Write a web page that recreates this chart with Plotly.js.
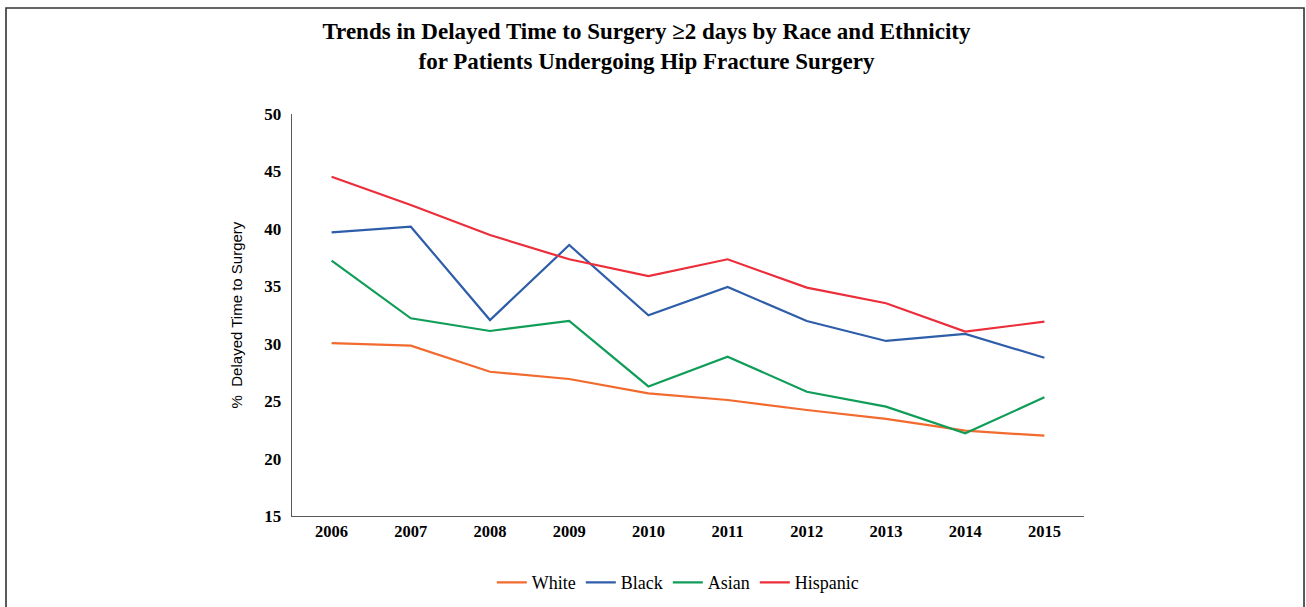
<!DOCTYPE html>
<html>
<head>
<meta charset="utf-8">
<script src="https://cdn.plot.ly/plotly-3.0.1.min.js"></script>
<style>html,body{margin:0;padding:0;background:#fff;}#chart{width:1306px;height:607px;}</style>
</head>
<body>
<div id="chart"></div>
<script>
const years = ["2006","2007","2008","2009","2010","2011","2012","2013","2014","2015"];
const white = [30.06, 29.83, 27.56, 26.93, 25.68, 25.10, 24.23, 23.45, 22.43, 21.99];
const black = [39.70, 40.19, 32.06, 38.59, 32.47, 34.94, 31.98, 30.24, 30.85, 28.78];
const asian = [37.23, 32.21, 31.11, 31.98, 26.28, 28.87, 25.82, 24.52, 22.20, 25.33];
const hispanic = [44.54, 42.08, 39.46, 37.35, 35.89, 37.35, 34.88, 33.52, 31.05, 31.92];
const seriesNames = ["White", "Black", "Asian", "Hispanic"];
const seriesColors = ["#F26A2E", "#2E5DA9", "#0F9D58", "#EC2D3A"];
const seriesValues = [white, black, asian, hispanic];

const traces = seriesValues.map((v, i) => ({
  type: "scatter", mode: "lines", x: years, y: v, name: seriesNames[i],
  line: {color: seriesColors[i], width: 2.2}
}));

const serif = "Liberation Serif, Times New Roman, serif";
const layout = {
  width: 1306, height: 607,
  margin: {l: 292, r: 222, t: 114, b: 91},
  paper_bgcolor: "#fff", plot_bgcolor: "#fff",
  showlegend: true,
  title: {
    text: "<b>Trends in Delayed Time to Surgery ≥2 days by Race and Ethnicity<br>for Patients Undergoing Hip Fracture Surgery</b>",
    font: {family: serif, size: 23, color: "#000"},
    x: 0.495, xanchor: "center", xref: "container", yref: "container", y: 0.935, yanchor: "top",
    automargin: false
  },
  xaxis: {
    type: "category", range: [-0.5, 9.5], automargin: false,
    showgrid: false, zeroline: false,
    showline: true, linecolor: "#595959", linewidth: 1.3,
    ticks: "", tickfont: {family: serif, size: 16.5, color: "#000", weight: "bold"},
    fixedrange: true
  },
  yaxis: {
    range: [15, 50], dtick: 5, tick0: 15, automargin: false,
    showgrid: false, zeroline: false,
    showline: true, linecolor: "#595959", linewidth: 1.3,
    ticks: "", ticklabelstandoff: 6,
    tickfont: {family: serif, size: 17, color: "#000", weight: "bold"},
    title: {text: "%  Delayed Time to Surgery", font: {family: "Liberation Sans, Arial, sans-serif", size: 15, color: "#000"}, standoff: 18},
    fixedrange: true
  },
  legend: {
    orientation: "h", x: 0.519, xanchor: "center", xref: "container",
    y: 0.04, yanchor: "middle", yref: "container",
    font: {family: serif, size: 18, color: "#000"},
    itemwidth: 30, traceorder: "normal"
  },
  shapes: [{
    type: "rect", xref: "paper", yref: "paper",
    x0: -0.3611, x1: 1.2778, y0: -0.3, y1: 1.2637,
    line: {color: "#333", width: 1.6}, fillcolor: "rgba(0,0,0,0)", layer: "below"
  }]
};

Plotly.newPlot("chart", traces, layout, {displayModeBar: false, staticPlot: true});
</script>
</body>
</html>
